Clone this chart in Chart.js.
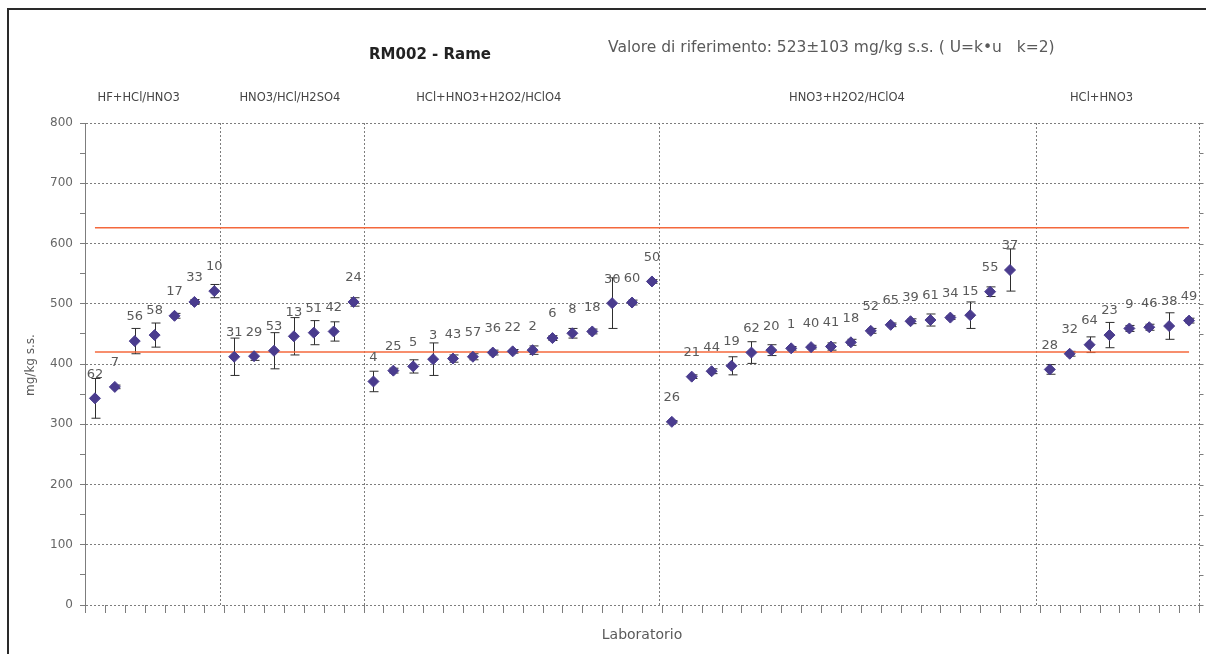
<!DOCTYPE html>
<html>
<head>
<meta charset="utf-8">
<title>RM002 - Rame</title>
<script src="https://cdn.jsdelivr.net/npm/chart.js@4.4.0/dist/chart.umd.min.js"></script>
<style>
  html, body { margin: 0; padding: 0; background: #fff; }
  #wrap { position: relative; width: 1206px; height: 654px; overflow: hidden; }
  #frame { position: absolute; left: 7px; top: 8px; width: 1230px; height: 680px;
           border-left: 2px solid #2a2a2a; border-top: 2px solid #2a2a2a; pointer-events: none; }
  canvas { position: absolute; left: 0; top: 0; }
</style>
</head>
<body>
<div id="wrap">
  <canvas id="chart" width="1206" height="654"></canvas>
  <div id="frame"></div>
</div>
<script>
// Laboratory codes, in plotting order (empty string = unused slot)
const labCodes = [
  '62','7','56','58','17','33','10',
  '31','29','53','13','51','42','24',
  '4','25','5','3','43','57','36','22','2','6','8','18','30','60','50',
  '26','21','44','19','62','20','1','40','41','18','52','65','39','61','34','15','55','37',
  '',
  '28','32','64','23','9','46','38','49'
];

// Reported copper content, mg/kg s.s.
const labValues = [
  343, 362, 438, 448, 480, 503, 521,
  412, 413, 422, 446, 452, 454, 503,
  371, 389, 396, 408, 409, 412, 419, 421, 423, 443, 451, 454, 501, 502, 537,
  304, 379, 388, 397, 419, 423, 426, 428, 429, 436, 455, 465, 471, 473, 477, 481, 520, 556,
  null,
  391, 417, 432, 448, 459, 461, 463, 472
];

// Expanded uncertainty declared by each laboratory, mg/kg s.s.
const labUncertainty = [
  33, 3, 21, 20, 4, 4, 11,
  31, 7, 30, 31, 20, 16, 7,
  17, 4, 11, 27, 6, 5, 4, 3, 7, 4, 8, 4, 42, 4, 3,
  2, 3, 4, 15, 18, 9, 3, 3, 6, 5, 4, 3, 4, 10, 3, 22, 8, 35,
  null,
  8, 4, 13, 21, 5, 5, 22, 4
];

// Digestion methods
const methodNames = ['HF+HCl/HNO3', 'HNO3/HCl/H2SO4', 'HCl+HNO3+H2O2/HClO4', 'HNO3+H2O2/HClO4', 'HCl+HNO3'];

// Reference value and its expanded uncertainty
const refValue = 523;
const refUncertainty = 103;

// Y axis ticks
const yTicks = [0, 100, 200, 300, 400, 500, 600, 700, 800];

// ---- layout (slot units on the x scale) ----
const methodLabelAt = [2.2, 9.8, 19.8, 37.8, 50.6];
const methodDividers = [6.3, 13.5, 28.35, 47.3];

const points = labValues
  .map((v, i) => ({ x: i, y: v, code: labCodes[i], u: labUncertainty[i] }))
  .filter(p => p.y !== null);

const firstSlot = 0;
const lastSlot = labCodes.length - 1;

const GRID = '#7d7d7d';
const TEXT = '#5a5a5a';

const decorations = {
  id: 'decorations',
  beforeDatasetsDraw(chart) {
    const { ctx, chartArea: a, scales: { x, y } } = chart;
    ctx.save();
    ctx.strokeStyle = GRID;
    ctx.lineWidth = 1;
    ctx.setLineDash([2, 2]);
    // method dividers
    methodDividers.forEach(d => {
      const px = Math.round(x.getPixelForValue(d)) + 0.5;
      ctx.beginPath(); ctx.moveTo(px, a.top); ctx.lineTo(px, a.bottom); ctx.stroke();
    });
    // right frame of the plot with small ticks
    const rx = Math.round(a.right) + 0.5;
    ctx.beginPath(); ctx.moveTo(rx, a.top); ctx.lineTo(rx, a.bottom); ctx.stroke();
    ctx.setLineDash([]);
    for (let v = 0; v <= 800; v += 50) {
      const py = Math.round(y.getPixelForValue(v)) + 0.5;
      ctx.beginPath(); ctx.moveTo(rx, py); ctx.lineTo(rx + 4, py); ctx.stroke();
    }
    // x tick marks between slots
    for (let i = 0; i <= labCodes.length; i++) {
      const px = Math.round(x.getPixelForValue(i - 0.5)) + 0.5;
      ctx.beginPath(); ctx.moveTo(px, a.bottom); ctx.lineTo(px, a.bottom + 8); ctx.stroke();
    }
    // error bars
    ctx.strokeStyle = '#2e2e2e';
    points.forEach(p => {
      if (!p.u) return;
      const px = Math.round(x.getPixelForValue(p.x)) + 0.5;
      const top = y.getPixelForValue(p.y + p.u);
      const bot = y.getPixelForValue(p.y - p.u);
      ctx.beginPath();
      ctx.moveTo(px, top); ctx.lineTo(px, bot);
      ctx.moveTo(px - 4, top); ctx.lineTo(px + 5, top);
      ctx.moveTo(px - 4, bot); ctx.lineTo(px + 5, bot);
      ctx.stroke();
    });
    ctx.restore();
  },
  afterDatasetsDraw(chart) {
    const { ctx, scales: { x, y } } = chart;
    ctx.save();
    ctx.fillStyle = TEXT;
    ctx.font = '13px "DejaVu Sans"';
    ctx.textAlign = 'center';
    ctx.textBaseline = 'middle';
    points.forEach(p => {
      ctx.fillText(p.code, x.getPixelForValue(p.x), y.getPixelForValue(p.y) - 24);
    });
    ctx.restore();
  },
  afterDraw(chart) {
    const { ctx, chartArea: a, scales: { x } } = chart;
    ctx.save();
    ctx.textBaseline = 'middle';
    ctx.textAlign = 'center';
    ctx.fillStyle = '#222';
    ctx.font = 'bold 15px "DejaVu Sans"';
    ctx.fillText('RM002 - Rame', 430, 55);
    ctx.fillStyle = TEXT;
    ctx.font = '15.5px "DejaVu Sans"';
    ctx.textAlign = 'left';
    ctx.fillText('Valore di riferimento: ' + refValue + '\u00B1' + refUncertainty + ' mg/kg s.s. ( U=k\u2022u   k=2)', 608, 48);
    ctx.textAlign = 'center';
    ctx.font = '11.5px "DejaVu Sans"';
    ctx.fillStyle = '#444';
    methodNames.forEach((n, i) => ctx.fillText(n, x.getPixelForValue(methodLabelAt[i]), 98));
    ctx.fillStyle = TEXT;
    ctx.font = '14px "DejaVu Sans"';
    ctx.fillText('Laboratorio', (a.left + a.right) / 2, 635);
    ctx.translate(31, 365);
    ctx.rotate(-Math.PI / 2);
    ctx.font = '12px "DejaVu Sans"';
    ctx.fillText('mg/kg s.s.', 0, 0);
    ctx.restore();
  }
};

new Chart(document.getElementById('chart'), {
  data: {
    datasets: [
      {
        type: 'line',
        label: 'limite superiore',
        data: [{ x: firstSlot, y: refValue + refUncertainty }, { x: lastSlot, y: refValue + refUncertainty }],
        borderColor: '#f4683c', borderWidth: 1.5, pointRadius: 0, order: 2
      },
      {
        type: 'line',
        label: 'limite inferiore',
        data: [{ x: firstSlot, y: refValue - refUncertainty }, { x: lastSlot, y: refValue - refUncertainty }],
        borderColor: '#f4683c', borderWidth: 1.5, pointRadius: 0, order: 2
      },
      {
        type: 'scatter',
        label: 'Laboratori',
        data: points,
        pointStyle: 'rectRot',
        pointRadius: 5.5,
        backgroundColor: '#4a3c8e',
        borderColor: '#4a3c8e',
        borderWidth: 1,
        order: 1
      }
    ]
  },
  options: {
    responsive: false,
    animation: false,
    events: [],
    layout: { autoPadding: false, padding: { left: 0, right: 7, top: 123, bottom: 49 } },
    plugins: { legend: { display: false }, tooltip: { enabled: false }, title: { display: false } },
    scales: {
      x: {
        type: 'linear',
        min: -0.5,
        max: labCodes.length - 0.5,
        display: false
      },
      y: {
        type: 'linear',
        min: 0,
        max: 800,
        afterFit(scale) { scale.width = 85; },
        afterBuildTicks(scale) {
          const t = [];
          yTicks.forEach((v, i) => { t.push({ value: v }); if (i < yTicks.length - 1) t.push({ value: v + 50 }); });
          scale.ticks = t;
        },
        ticks: {
          color: '#666',
          font: { family: 'DejaVu Sans', size: 12 },
          padding: 7,
          callback: v => (yTicks.includes(v) ? String(v) : '')
        },
        grid: {
          color: c => (c.tick && yTicks.includes(c.tick.value) ? GRID : 'rgba(0,0,0,0)'),
          tickColor: GRID,
          tickLength: 5,
          lineWidth: 1
        },
        border: { display: true, color: GRID, dash: [2, 2] }
      }
    }
  },
  plugins: [decorations]
});
</script>
</body>
</html>
